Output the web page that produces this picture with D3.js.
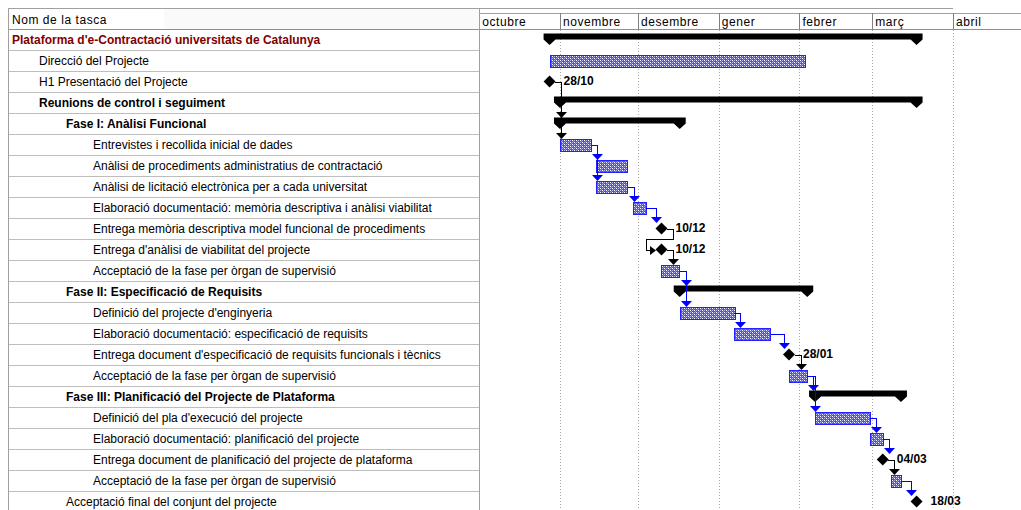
<!DOCTYPE html>
<meta charset="utf-8">

<body>
  <svg id="gantt"></svg>
</body>

<style>
body {
  margin: 0;
  background: #fff;
}

text {
  font-family: "Liberation Sans", Arial, sans-serif;
  font-size: 12px;
}

.capcalera {
  letter-spacing: 0.55px;
  fill: #000;
}

.tasca.resum {
  font-weight: bold;
}

.tasca.arrel {
  fill: #800000;
}

.etiqueta {
  font-weight: bold;
}

.linia {
  shape-rendering: crispEdges;
}
</style>

<script src="https://d3js.org/d3.v7.min.js"></script>
<script>

// escala temporal (mesos)
var mesos = ["octubre", "novembre", "desembre", "gener", "febrer", "març", "abril"];
var iniciMesos = ["2006-10-01", "2006-11-01", "2006-12-01", "2007-01-01", "2007-02-01", "2007-03-01", "2007-04-01"];

// tasques
var tasques = [
  "Plataforma d'e-Contractació universitats de Catalunya",
  "Direcció del Projecte",
  "H1 Presentació del Projecte",
  "Reunions de control i seguiment",
  "Fase I: Anàlisi Funcional",
  "Entrevistes i recollida inicial de dades",
  "Anàlisi de procediments administratius de contractació",
  "Anàlisi de licitació electrònica per a cada universitat",
  "Elaboració documentació: memòria descriptiva i anàlisi viabilitat",
  "Entrega memòria descriptiva model funcional de procediments",
  "Entrega d'anàlisi de viabilitat del projecte",
  "Acceptació de la fase per òrgan de supervisió",
  "Fase II: Especificació de Requisits",
  "Definició del projecte d'enginyeria",
  "Elaboració documentació: especificació de requisits",
  "Entrega document d'especificació de requisits funcionals i tècnics",
  "Acceptació de la fase per òrgan de supervisió",
  "Fase III: Planificació del Projecte de Plataforma",
  "Definició del pla d'execució del projecte",
  "Elaboració documentació: planificació del projecte",
  "Entrega document de planificació del projecte de plataforma",
  "Acceptació de la fase per òrgan de supervisió",
  "Acceptació final del conjunt del projecte"
];

var nivells = [0, 1, 1, 1, 2, 3, 3, 3, 3, 3, 3, 3, 2, 3, 3, 3, 3, 2, 3, 3, 3, 3, 2];

var tipus = ["resum", "tasca", "fita", "resum", "resum", "tasca", "tasca", "tasca", "tasca", "fita", "fita", "tasca",
             "resum", "tasca", "tasca", "fita", "tasca", "resum", "tasca", "tasca", "fita", "tasca", "fita"];

var inicis = ["2006-10-28", "2006-10-28", "2006-10-28", "2006-11-01", "2006-11-01", "2006-11-01", "2006-11-15", "2006-11-15",
              "2006-11-29", "2006-12-10", "2006-12-10", "2006-12-10", "2006-12-17", "2006-12-17", "2007-01-07", "2007-01-28",
              "2007-01-28", "2007-02-07", "2007-02-07", "2007-02-28", "2007-03-05", "2007-03-08", "2007-03-18"];

var finals = ["2007-03-18", "2007-02-03", "2006-10-28", "2007-03-18", "2006-12-17", "2006-11-13", "2006-11-27", "2006-11-27",
              "2006-12-04", "2006-12-10", "2006-12-10", "2006-12-17", "2007-02-04", "2007-01-07", "2007-01-21", "2007-01-28",
              "2007-02-04", "2007-03-12", "2007-02-28", "2007-03-05", "2007-03-05", "2007-03-12", "2007-03-18"];

// text al costat de les fites
var etiquetes = ["", "", "28/10", "", "", "", "", "", "", "10/12", "10/12", "", "", "", "", "28/01", "", "", "", "", "04/03", "", "18/03"];

// vincles fi-inici [predecessora, successora]
var vincles = [[2, 4], [2, 5], [5, 6], [5, 7], [7, 8], [8, 9], [9, 10], [10, 11], [11, 12], [11, 13], [13, 14],
               [14, 15], [15, 16], [16, 17], [16, 18], [18, 19], [19, 20], [20, 21], [21, 22]];

var sagnat = [12, 39, 66, 93];

var svg = d3.select("#gantt")
    .attr("width", 1021)
    .attr("height", 510);

var x = d3.scaleUtc()
    .domain([d3.isoParse(iniciMesos[0]), d3.isoParse(iniciMesos[6])])
    .range([479.3, 953]);

var y = d3.scaleBand()
    .domain(d3.range(tasques.length))
    .range([29, 29 + 21 * tasques.length]);

function mig(i) { return y(i) + y.bandwidth() / 2; }
function xi(i) { return x(d3.isoParse(inicis[i])); }
function xf(i) { return x(d3.isoParse(finals[i])); }

// trama de les barres
var defs = svg.append("defs");
var trama = defs.append("pattern")
    .attr("id", "trama")
    .attr("width", 4).attr("height", 4)
    .attr("patternUnits", "userSpaceOnUse");
trama.append("rect").attr("width", 4).attr("height", 4).attr("fill", "#4e4eff");
trama.append("rect").attr("x", 0).attr("y", 0).attr("width", 1).attr("height", 1).attr("fill", "#ffffff");
trama.append("rect").attr("x", 2).attr("y", 2).attr("width", 1).attr("height", 1).attr("fill", "#ffffff");
trama.append("rect").attr("x", 2).attr("y", 0).attr("width", 1).attr("height", 1).attr("fill", "#b0b0ff");
trama.append("rect").attr("x", 0).attr("y", 2).attr("width", 1).attr("height", 1).attr("fill", "#b0b0ff");
trama.append("rect").attr("x", 1).attr("y", 1).attr("width", 1).attr("height", 1).attr("fill", "#8a8aff");
trama.append("rect").attr("x", 3).attr("y", 3).attr("width", 1).attr("height", 1).attr("fill", "#8a8aff");

// TAULA

var taula = svg.append("g");

taula.append("rect")
    .attr("x", 164).attr("y", 9)
    .attr("width", 315).attr("height", 20)
    .attr("fill", "#fafafa");

taula.append("text")
    .attr("class", "capcalera")
    .attr("x", 12).attr("y", 24)
    .text("Nom de la tasca");

taula.selectAll("line.fila")
  .data(tasques)
  .enter()
  .append("line")
    .attr("class", "linia")
    .attr("x1", 8).attr("x2", 479)
    .attr("y1", (d, i) => y(i) + y.bandwidth())
    .attr("y2", (d, i) => y(i) + y.bandwidth())
    .attr("stroke", "#bdbdbd");

taula.selectAll("text.tasca")
  .data(tasques)
  .enter()
  .append("text")
    .attr("class", (d, i) => "tasca" + (tipus[i] == "resum" ? " resum" : "") + (nivells[i] == 0 ? " arrel" : ""))
    .attr("x", (d, i) => sagnat[nivells[i]])
    .attr("y", (d, i) => mig(i) + 4)
    .text(d => d);

// marc
svg.append("line").attr("class", "linia")
    .attr("x1", 8).attr("x2", 953).attr("y1", 8).attr("y2", 8).attr("stroke", "#a0a0a0");
svg.append("line").attr("class", "linia")
    .attr("x1", 479).attr("x2", 1021).attr("y1", 13).attr("y2", 13).attr("stroke", "#a0a0a0");
svg.append("line").attr("class", "linia")
    .attr("x1", 8).attr("x2", 1021).attr("y1", 29).attr("y2", 29).attr("stroke", "#909090");
svg.append("line").attr("class", "linia")
    .attr("x1", 8).attr("x2", 8).attr("y1", 8).attr("y2", 510).attr("stroke", "#a0a0a0");
svg.append("line").attr("class", "linia")
    .attr("x1", 479).attr("x2", 479).attr("y1", 8).attr("y2", 510).attr("stroke", "#a0a0a0");

// ESCALA DE MESOS

var escala = svg.append("g");
var dataMes = iniciMesos.map(d3.isoParse);

escala.selectAll("line.sep")
  .data(dataMes.slice(1))
  .enter()
  .append("line")
    .attr("class", "linia")
    .attr("x1", d => Math.round(x(d))).attr("x2", d => Math.round(x(d)))
    .attr("y1", 13).attr("y2", 29)
    .attr("stroke", "#808080");

escala.selectAll("line.graella")
  .data(dataMes.slice(1))
  .enter()
  .append("line")
    .attr("class", "linia")
    .attr("x1", d => Math.round(x(d))).attr("x2", d => Math.round(x(d)))
    .attr("y1", 30).attr("y2", 510)
    .attr("stroke", "#a8a8a8")
    .attr("stroke-dasharray", "1,2");

escala.selectAll("text")
  .data(mesos)
  .enter()
  .append("text")
    .attr("class", "capcalera")
    .attr("x", (d, i) => x(dataMes[i]) + 3)
    .attr("y", 26)
    .text(d => d);

// BARRES

var barres = svg.append("g");
var idx = d3.range(tasques.length);

// tasques de resum
barres.selectAll("polygon.resum")
  .data(idx.filter(i => tipus[i] == "resum"))
  .enter()
  .append("polygon")
    .attr("fill", "#000")
    .attr("points", i => {
      var s = xi(i), e = xf(i), c = mig(i);
      return [[s - 6, c - 6], [e + 6, c - 6], [e + 6, c], [e, c + 5.5], [e - 6, c],
              [s + 6, c], [s, c + 5.5], [s - 6, c]].join(" ");
    });

// tasques normals
barres.selectAll("rect.tasca")
  .data(idx.filter(i => tipus[i] == "tasca"))
  .enter()
  .append("rect")
    .attr("class", "linia")
    .attr("x", i => Math.round(xi(i)) + 0.5)
    .attr("y", i => Math.round(mig(i) - 6) + 0.5)
    .attr("width", i => Math.round(xf(i) - xi(i)))
    .attr("height", 12)
    .attr("fill", "url(#trama)")
    .attr("stroke", "#2222ff");

// VINCLES

function dretaPred(i) { return tipus[i] == "fita" ? xi(i) + 5.5 : xf(i); }
function esqSucc(i) { return tipus[i] == "fita" ? xi(i) - 5.5 : (tipus[i] == "resum" ? xi(i) - 6 : xi(i)); }
function dretaSucc(i) { return tipus[i] == "fita" ? xi(i) + 5.5 : (tipus[i] == "resum" ? xf(i) + 6 : xf(i)); }

var capaVincles = svg.append("g");

vincles.forEach(v => {
  var a = v[0], b = v[1];
  var color = tipus[a] == "fita" ? "#000" : "#0000ff";
  var x0 = dretaPred(a), y0 = Math.round(mig(a)) + 0.5;
  var ax = Math.round(Math.max(x0 + 6, esqSucc(b))) + 0.5;
  var cim = Math.round(mig(b) - 6);
  var cami, fletxa;

  if (ax <= dretaSucc(b) + 3) {
    cami = "M" + x0 + "," + y0 + "H" + ax + "V" + (cim - 5);
    fletxa = [[ax - 5.5, cim - 6], [ax + 5.5, cim - 6], [ax, cim]];
  } else {
    // vincle cap enrere
    var pe = Math.round(esqSucc(b));
    var yb = Math.round(mig(b)) + 0.5;
    cami = "M" + x0 + "," + y0 + "H" + ax + "V" + (y0 + 10) + "H" + (pe - 9.5) + "V" + yb + "H" + (pe - 5);
    fletxa = [[pe - 6, yb - 4.5], [pe - 6, yb + 4.5], [pe, yb]];
  }

  capaVincles.append("path")
      .attr("class", "linia")
      .attr("d", cami)
      .attr("fill", "none")
      .attr("stroke", color);

  capaVincles.append("polygon")
      .attr("points", fletxa.join(" "))
      .attr("fill", color);
});

// FITES

var fites = svg.append("g");

fites.selectAll("path")
  .data(idx.filter(i => tipus[i] == "fita"))
  .enter()
  .append("path")
    .attr("fill", "#000")
    .attr("d", i => {
      var cx = xi(i), c = mig(i);
      return "M" + (cx - 6) + "," + c + "L" + cx + "," + (c - 6) + "L" + (cx + 6) + "," + c + "L" + cx + "," + (c + 6) + "Z";
    });

fites.selectAll("text")
  .data(idx.filter(i => tipus[i] == "fita"))
  .enter()
  .append("text")
    .attr("class", "etiqueta")
    .attr("x", i => xi(i) + 14)
    .attr("y", i => mig(i) + 3)
    .text(i => etiquetes[i]);

</script>
